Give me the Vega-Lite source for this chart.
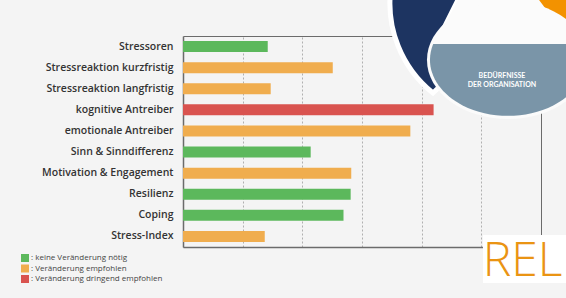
{
  "$schema": "https://vega.github.io/schema/vega-lite/v6.json",
  "width": 358,
  "height": 211,
  "autosize": {"type": "none"},
  "padding": {"left": 183, "top": 36, "right": 25, "bottom": 51},
  "background": "#f4f4f4",
  "config": {"view": {"stroke": null}, "font": "Open Sans"},
  "data": {
    "values": [
      {"category": "Stressoren", "value": 1.42, "status": "keine Veränderung nötig"},
      {"category": "Stressreaktion kurzfristig", "value": 2.51, "status": "Veränderung empfohlen"},
      {"category": "Stressreaktion langfristig", "value": 1.47, "status": "Veränderung empfohlen"},
      {"category": "kognitive Antreiber", "value": 4.2, "status": "Veränderung dringend empfohlen"},
      {"category": "emotionale Antreiber", "value": 3.81, "status": "Veränderung empfohlen"},
      {"category": "Sinn & Sinndifferenz", "value": 2.14, "status": "keine Veränderung nötig"},
      {"category": "Motivation & Engagement", "value": 2.82, "status": "Veränderung empfohlen"},
      {"category": "Resilienz", "value": 2.81, "status": "keine Veränderung nötig"},
      {"category": "Coping", "value": 2.69, "status": "keine Veränderung nötig"},
      {"category": "Stress-Index", "value": 1.37, "status": "Veränderung empfohlen"}
    ]
  },
  "layer": [
    {
      "mark": {"type": "bar"},
      "encoding": {
        "y": {
          "field": "category", "type": "nominal",
          "sort": ["Stressoren", "Stressreaktion kurzfristig", "Stressreaktion langfristig", "kognitive Antreiber", "emotionale Antreiber", "Sinn & Sinndifferenz", "Motivation & Engagement", "Resilienz", "Coping", "Stress-Index"],
          "scale": {"paddingInner": 0.48, "paddingOuter": 0.24},
          "axis": {"orient": "left", "title": null, "ticks": false, "labelPadding": 10, "labelFontSize": 10.5, "labelFontWeight": 600, "labelColor": "#333333", "labelLimit": 250, "domainColor": "#6b6b6b", "domainWidth": 1.5, "grid": false}
        },
        "x": {
          "field": "value", "type": "quantitative",
          "scale": {"domain": [0, 6], "nice": false},
          "axis": {"orient": "bottom", "values": [0, 1, 2, 3, 4, 5, 6], "labels": false, "ticks": false, "title": null, "grid": true, "gridColor": "#b0b0b0", "gridDash": [2, 2], "gridWidth": 1, "domainColor": "#6b6b6b", "domainWidth": 1.5}
        },
        "color": {
          "field": "status", "type": "nominal",
          "scale": {"domain": ["keine Veränderung nötig", "Veränderung empfohlen", "Veränderung dringend empfohlen"], "range": ["#5cb85c", "#f0ad4e", "#d9534f"]},
          "legend": {"orient": "none", "legendX": -162, "legendY": 218, "title": null, "symbolType": "square", "symbolSize": 64, "symbolStrokeWidth": 0, "labelFontSize": 8, "labelColor": "#444444", "labelExpr": "': ' + datum.label", "rowPadding": 2.5, "padding": 0, "labelOffset": 2}
        }
      }
    },
    {
      "data": {"values": [{}]},
      "mark": {"type": "point", "opacity": 0},
      "encoding": {
        "x": {"datum": 0, "type": "quantitative", "axis": {"orient": "top", "labels": false, "ticks": false, "grid": false, "title": null, "domainColor": "#6b6b6b", "domainWidth": 1}},
        "y": {"datum": "Stressoren", "type": "nominal", "axis": {"orient": "right", "labels": false, "ticks": false, "grid": false, "title": null, "domainColor": "#6b6b6b", "domainWidth": 1}}
      }
    },
    {
      "data": {"values": [{}]},
      "mark": {"type": "point", "shape": "M-1.202,-0.586A1.15,1.15,0,0,0,-0.782,0.465L-0.562,0.255L-0.752,-0.026L-0.532,-0.466L-0.492,-0.586Z", "size": 40000, "filled": true, "fill": "#1d3461", "stroke": "#ffffff", "strokeWidth": 5, "opacity": 1},
      "encoding": {
        "x": {"datum": 5.5, "type": "quantitative", "axis": null},
        "y": {"datum": "Stressoren", "type": "nominal", "axis": null}
      }
    },
    {
      "data": {"values": [{}]},
      "mark": {"type": "point", "shape": "M0.138,-0.586L0.888,-0.586L0.888,0.235L0.488,0.235Z", "size": 40000, "filled": true, "fill": "#f39200", "strokeWidth": 0, "opacity": 1},
      "encoding": {
        "x": {"datum": 5.5, "type": "quantitative", "axis": null},
        "y": {"datum": "Stressoren", "type": "nominal", "axis": null}
      }
    },
    {
      "data": {"values": [{}]},
      "mark": {"type": "point", "shape": "M-0.192,-1.096L-0.812,0.055L0.668,0.055Z", "size": 40000, "filled": true, "fill": "#fbfbfb", "strokeWidth": 0, "opacity": 1},
      "encoding": {
        "x": {"datum": 5.5, "type": "quantitative", "axis": null},
        "y": {"datum": "Stressoren", "type": "nominal", "axis": null}
      }
    },
    {
      "data": {"values": [{}]},
      "mark": {"type": "point", "shape": "M-0.842,0.135A0.81,0.59,0,1,0,0.778,0.135A0.81,0.59,0,1,0,-0.842,0.135Z", "size": 40000, "filled": true, "fill": "#fbfbfb", "strokeWidth": 0, "opacity": 1},
      "encoding": {
        "x": {"datum": 5.5, "type": "quantitative", "axis": null},
        "y": {"datum": "Stressoren", "type": "nominal", "axis": null}
      }
    },
    {
      "data": {"values": [{}]},
      "mark": {"type": "point", "shape": "M-0.78,-0.026A0.78,0.56,0,1,0,0.716,-0.026Z", "size": 40000, "filled": true, "fill": "#7a95a8", "strokeWidth": 0, "opacity": 1},
      "encoding": {
        "x": {"datum": 5.5, "type": "quantitative", "axis": null},
        "y": {"datum": "Stressoren", "type": "nominal", "axis": null}
      }
    },
    {
      "data": {"values": [{}]},
      "mark": {"type": "text", "text": ["BEDÜRFNISSE", "DER ORGANISATION"], "dx": -9.2, "dy": 29.5, "fontSize": 7, "fontWeight": "bold", "font": "Lato", "color": "#ffffff", "align": "center", "baseline": "middle", "lineHeight": 9},
      "encoding": {
        "x": {"datum": 5.5, "type": "quantitative", "axis": null},
        "y": {"datum": "Stressoren", "type": "nominal", "axis": null}
      }
    },
    {
      "data": {"values": [{}]},
      "mark": {"type": "point", "shape": "M-0.282,-0.015L0.588,-0.015L0.588,0.465L-0.282,0.465Z", "size": 40000, "filled": true, "fill": "#ffffff", "strokeWidth": 0, "opacity": 1},
      "encoding": {
        "x": {"datum": 5.5, "type": "quantitative", "axis": null},
        "y": {"datum": "Stress-Index", "type": "nominal", "axis": null}
      }
    },
    {
      "data": {"values": [{}]},
      "mark": {"type": "text", "text": "REL", "dx": -28.5, "dy": 39.5, "fontSize": 48, "fontWeight": 300, "font": "Open Sans", "color": "#ea9413", "align": "left", "baseline": "alphabetic"},
      "encoding": {
        "x": {"datum": 5.5, "type": "quantitative", "axis": null},
        "y": {"datum": "Stress-Index", "type": "nominal", "axis": null}
      }
    }
  ],
  "resolve": {"axis": {"x": "independent", "y": "independent"}}
}
